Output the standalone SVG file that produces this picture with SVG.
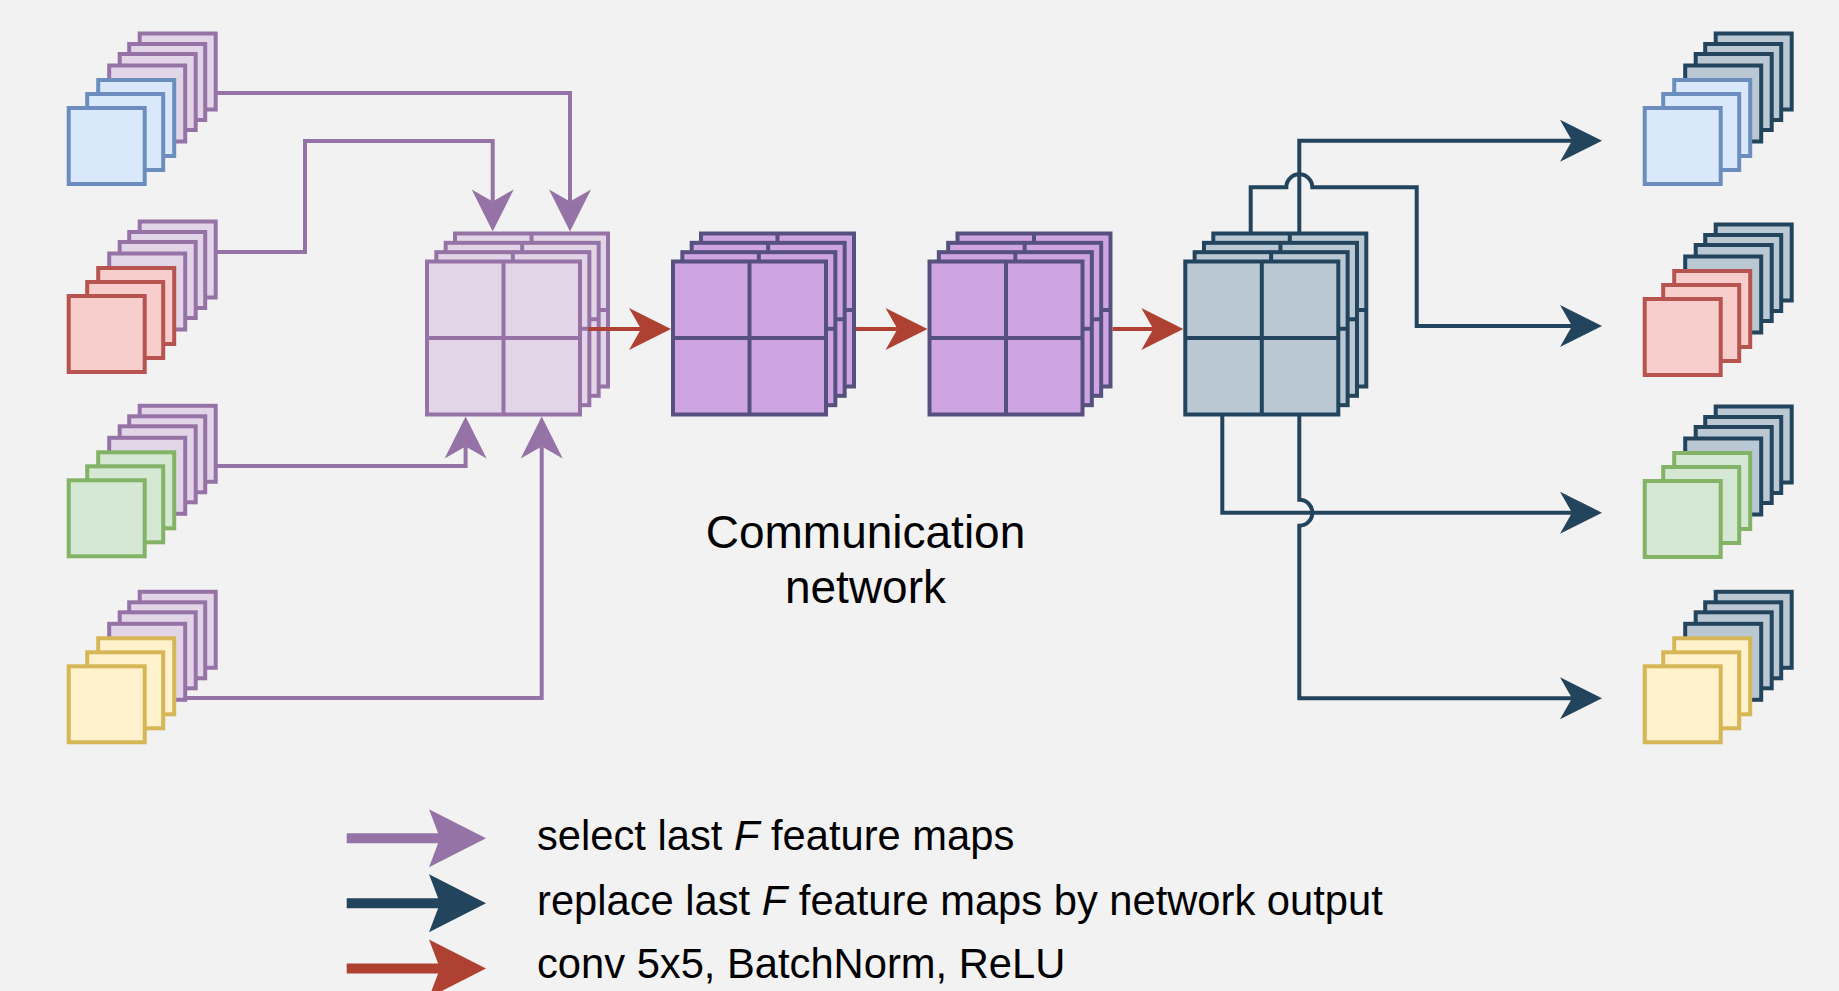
<svg xmlns="http://www.w3.org/2000/svg" width="1839" height="991" viewBox="0 0 1839 991">
<defs>
<style>
.sq{stroke-width:4}
.blk{stroke-width:4}
.blue{fill:#dae8fc;stroke:#6c8ebf}
.red{fill:#f8cecc;stroke:#b85450}
.green{fill:#d5e8d4;stroke:#82b366}
.yellow{fill:#fff2cc;stroke:#d6b656}
.lp{fill:#e1d5e7;stroke:#9673a6}
.dk{fill:#bac8d3;stroke:#23445d}
.cv{fill:#cfa4e2;stroke:#56517e}
.c{fill:none;stroke-width:4;stroke-linejoin:miter;stroke-linecap:butt}
.cp{stroke:#9673a6;marker-end:url(#ap)}
.cd{stroke:#23445d;marker-end:url(#ad)}
.cr{stroke:#ae4132;marker-end:url(#ar)}
.lg{fill:none;stroke-width:10}
text{font-family:"Liberation Sans",Arial,Helvetica,sans-serif;fill:#000}
</style>
<rect id="s" width="76" height="76"/>
<g id="lay"><rect width="153" height="153"/><path d="M76.5,0V153M0,76.5H153" fill="none"/></g>
<marker id="ap" markerUnits="userSpaceOnUse" markerWidth="42" markerHeight="42" refX="12" refY="21" orient="auto" overflow="visible"><path d="M0,0L42,21L0,42L12,21Z" fill="#9673a6"/></marker>
<marker id="ad" markerUnits="userSpaceOnUse" markerWidth="42" markerHeight="42" refX="12" refY="21" orient="auto" overflow="visible"><path d="M0,0L42,21L0,42L12,21Z" fill="#23445d"/></marker>
<marker id="ar" markerUnits="userSpaceOnUse" markerWidth="42" markerHeight="42" refX="12" refY="21" orient="auto" overflow="visible"><path d="M0,0L42,21L0,42L12,21Z" fill="#ae4132"/></marker>
<marker id="lp" markerUnits="userSpaceOnUse" markerWidth="57" markerHeight="58" refX="11" refY="29" orient="auto" overflow="visible"><path d="M0,0L57,29L0,58L11,29Z" fill="#9673a6"/></marker>
<marker id="ld" markerUnits="userSpaceOnUse" markerWidth="57" markerHeight="58" refX="11" refY="29" orient="auto" overflow="visible"><path d="M0,0L57,29L0,58L11,29Z" fill="#23445d"/></marker>
<marker id="lr" markerUnits="userSpaceOnUse" markerWidth="57" markerHeight="58" refX="11" refY="29" orient="auto" overflow="visible"><path d="M0,0L57,29L0,58L11,29Z" fill="#ae4132"/></marker>
</defs>
<rect width="1839" height="991" fill="#f2f2f2"/>

<!-- input stacks -->
<g id="in-1" class="sq" transform="translate(68.7,108)">
<use href="#s" class="lp" x="71" y="-74.5"/><use href="#s" class="lp" x="60.5" y="-64"/><use href="#s" class="lp" x="51" y="-54"/><use href="#s" class="lp" x="40.5" y="-42.5"/>
<use href="#s" class="blue" x="29.5" y="-28"/><use href="#s" class="blue" x="18.5" y="-14"/><use href="#s" class="blue"/>
</g>
<g id="in-2" class="sq" transform="translate(68.7,296)">
<use href="#s" class="lp" x="71" y="-74.5"/><use href="#s" class="lp" x="60.5" y="-64"/><use href="#s" class="lp" x="51" y="-54"/><use href="#s" class="lp" x="40.5" y="-42.5"/>
<use href="#s" class="red" x="29.5" y="-28"/><use href="#s" class="red" x="18.5" y="-14"/><use href="#s" class="red"/>
</g>
<g id="in-3" class="sq" transform="translate(68.7,480.3)">
<use href="#s" class="lp" x="71" y="-74.5"/><use href="#s" class="lp" x="60.5" y="-64"/><use href="#s" class="lp" x="51" y="-54"/><use href="#s" class="lp" x="40.5" y="-42.5"/>
<use href="#s" class="green" x="29.5" y="-28"/><use href="#s" class="green" x="18.5" y="-14"/><use href="#s" class="green"/>
</g>
<g id="in-4" class="sq" transform="translate(68.7,666.3)">
<use href="#s" class="lp" x="71" y="-74.5"/><use href="#s" class="lp" x="60.5" y="-64"/><use href="#s" class="lp" x="51" y="-54"/><use href="#s" class="lp" x="40.5" y="-42.5"/>
<use href="#s" class="yellow" x="29.5" y="-28"/><use href="#s" class="yellow" x="18.5" y="-14"/><use href="#s" class="yellow"/>
</g>

<!-- output stacks -->
<g id="out-1" class="sq" transform="translate(1644.7,108)">
<use href="#s" class="dk" x="71" y="-74.5"/><use href="#s" class="dk" x="60.5" y="-64"/><use href="#s" class="dk" x="51" y="-54"/><use href="#s" class="dk" x="40.5" y="-42.5"/>
<use href="#s" class="blue" x="29.5" y="-28"/><use href="#s" class="blue" x="18.5" y="-14"/><use href="#s" class="blue"/>
</g>
<g id="out-2" class="sq" transform="translate(1644.7,299)">
<use href="#s" class="dk" x="71" y="-74.5"/><use href="#s" class="dk" x="60.5" y="-64"/><use href="#s" class="dk" x="51" y="-54"/><use href="#s" class="dk" x="40.5" y="-42.5"/>
<use href="#s" class="red" x="29.5" y="-28"/><use href="#s" class="red" x="18.5" y="-14"/><use href="#s" class="red"/>
</g>
<g id="out-3" class="sq" transform="translate(1644.7,481)">
<use href="#s" class="dk" x="71" y="-74.5"/><use href="#s" class="dk" x="60.5" y="-64"/><use href="#s" class="dk" x="51" y="-54"/><use href="#s" class="dk" x="40.5" y="-42.5"/>
<use href="#s" class="green" x="29.5" y="-28"/><use href="#s" class="green" x="18.5" y="-14"/><use href="#s" class="green"/>
</g>
<g id="out-4" class="sq" transform="translate(1644.7,666.3)">
<use href="#s" class="dk" x="71" y="-74.5"/><use href="#s" class="dk" x="60.5" y="-64"/><use href="#s" class="dk" x="51" y="-54"/><use href="#s" class="dk" x="40.5" y="-42.5"/>
<use href="#s" class="yellow" x="29.5" y="-28"/><use href="#s" class="yellow" x="18.5" y="-14"/><use href="#s" class="yellow"/>
</g>

<!-- network blocks -->
<g id="selected" class="lp blk" transform="translate(427,261.5)">
<use href="#lay" x="28" y="-28"/><use href="#lay" x="18.67" y="-18.67"/><use href="#lay" x="9.33" y="-9.33"/><use href="#lay"/>
</g>
<g id="conv-1" class="cv blk" transform="translate(673,261.5)">
<use href="#lay" x="28" y="-28"/><use href="#lay" x="18.67" y="-18.67"/><use href="#lay" x="9.33" y="-9.33"/><use href="#lay"/>
</g>
<g id="conv-2" class="cv blk" transform="translate(929.5,261.5)">
<use href="#lay" x="28" y="-28"/><use href="#lay" x="18.67" y="-18.67"/><use href="#lay" x="9.33" y="-9.33"/><use href="#lay"/>
</g>
<g id="output" class="dk blk" transform="translate(1185.3,261.5)">
<use href="#lay" x="28" y="-28"/><use href="#lay" x="18.67" y="-18.67"/><use href="#lay" x="9.33" y="-9.33"/><use href="#lay"/>
</g>

<g id="caption">
<text x="865.5" y="548" font-size="46" text-anchor="middle">Communication</text>
<text x="865.5" y="603" font-size="46" text-anchor="middle">network</text>
</g>

<!-- connectors -->
<g id="connectors">
<path class="c cp" d="M215.7,93H570V201.5"/>
<path class="c cp" d="M215.7,252H305V141H492.7V201.5"/>
<path class="c cp" d="M215.7,466H465.6V446.5"/>
<path class="c cp" d="M185.2,698H541.7V446.5"/>
<path class="c cr" d="M588,329H641"/>
<path class="c cr" d="M856,329H897.5"/>
<path class="c cr" d="M1112.5,329H1153.3"/>
<path class="c cd" d="M1299.3,233.5V140.7H1572"/>
<path class="c cd" d="M1250.7,233.5V187.3H1286.3A13,13 0 0 1 1312.3,187.3H1416.7V326H1572"/>
<path class="c cd" d="M1222.3,414.5V512.7H1572"/>
<path class="c cd" d="M1299.3,414.5V499.7A13,13 0 0 1 1299.3,525.7V698.3H1572"/>
</g>

<!-- legend -->
<g id="legend">
<path class="lg" stroke="#9673a6" marker-end="url(#lp)" d="M346.7,838.3H440"/>
<path class="lg" stroke="#23445d" marker-end="url(#ld)" d="M346.7,903.3H440"/>
<path class="lg" stroke="#ae4132" marker-end="url(#lr)" d="M346.7,968.5H440"/>
<text x="537" y="850" font-size="41.7">select last <tspan font-style="italic">F</tspan> feature maps</text>
<text x="537" y="915" font-size="41.7">replace last <tspan font-style="italic">F</tspan> feature maps by network output</text>
<text x="537" y="978" font-size="41.7">conv 5x5, BatchNorm, ReLU</text>
</g>
</svg>
